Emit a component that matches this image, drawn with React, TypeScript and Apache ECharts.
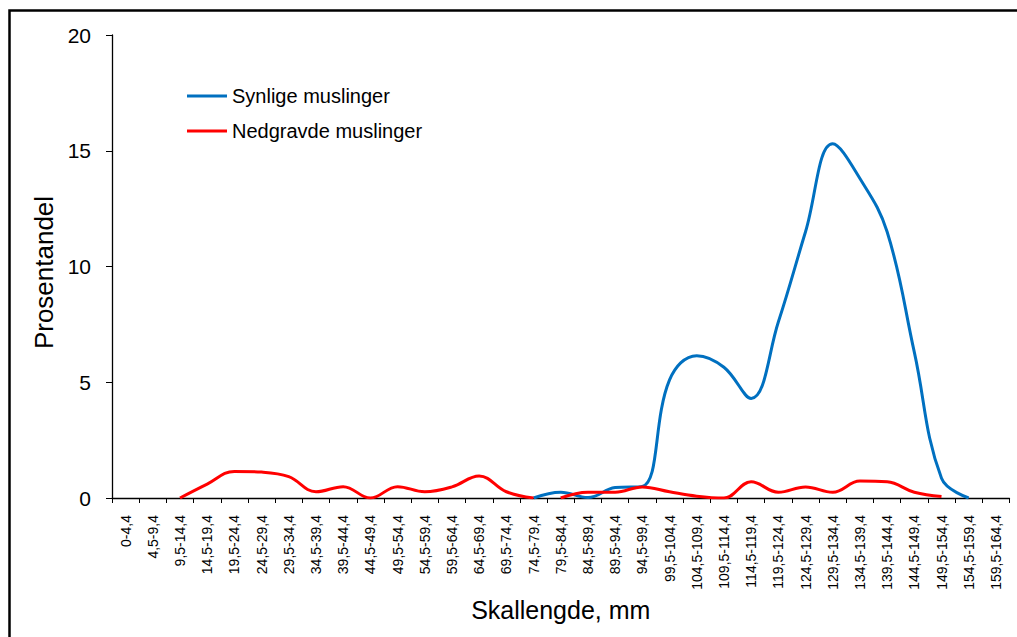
import React, { useEffect, useRef } from "react";
import * as echarts from "echarts";

const categories = [
  "0-4,4", "4,5-9,4", "9,5-14,4", "14,5-19,4", "19,5-24,4", "24,5-29,4", "29,5-34,4",
  "34,5-39,4", "39,5-44,4", "44,5-49,4", "49,5-54,4", "54,5-59,4", "59,5-64,4", "64,5-69,4",
  "69,5-74,4", "74,5-79,4", "79,5-84,4", "84,5-89,4", "89,5-94,4", "94,5-99,4", "99,5-104,4",
  "104,5-109,4", "109,5-114,4", "114,5-119,4", "119,5-124,4", "124,5-129,4", "129,5-134,4",
  "134,5-139,4", "139,5-144,4", "144,5-149,4", "149,5-154,4", "154,5-159,4", "159,5-164,4",
];

const synlige: (number | null)[] = [
  null, null, null, null, null, null, null, null, null, null, null, null, null, null, null,
  0, 0.25, 0.02, 0.45, 0.5, 5.1, 6.15, 5.65, 4.3, 7.6, 11.5, 15.3, 13.8, 11.5, 6.3, 0.85, 0, null,
];

const nedgravdeA: (number | null)[] = [
  null, null, 0, 0.6, 1.15, 1.12, 0.92, 0.27, 0.49, 0, 0.49, 0.27, 0.48, 0.95, 0.27, 0,
  null, null, null, null, null, null, null, null, null, null, null, null, null, null, null, null, null,
];

const nedgravdeB: (number | null)[] = [
  null, null, null, null, null, null, null, null, null, null, null, null, null, null, null, null,
  0, 0.25, 0.25, 0.48, 0.27, 0.08, 0, 0.7, 0.25, 0.48, 0.25, 0.73, 0.7, 0.25, 0.06, null, null,
];

const yTicks = [0, 5, 10, 15, 20];

const FONT = "Liberation Sans, Arial, sans-serif";

export default function App() {
  const ref = useRef<HTMLDivElement>(null);
  useEffect(() => {
    document.body.style.margin = "0";
    const chart = echarts.init(ref.current!, null, { renderer: "svg" });
    const smooth = 0.4;
    chart.setOption({
      animation: false,
      backgroundColor: "#ffffff",
      textStyle: { fontFamily: FONT },
      graphic: [
        {
          type: "rect",
          shape: { x: 9.5, y: 10.5, width: 1100, height: 700 },
          style: { fill: "none", stroke: "#000", lineWidth: 2.5 },
          silent: true,
        },
      ],
      legend: {
        orient: "vertical",
        left: 187,
        top: 86,
        padding: 0,
        itemWidth: 40,
        itemHeight: 3,
        itemGap: 15,
        icon: "rect",
        data: ["Synlige muslinger", "Nedgravde muslinger"],
        textStyle: { fontFamily: FONT, fontSize: 20, color: "#000" },
      },
      grid: { left: 112, top: 35, right: 7.5, bottom: 139, containLabel: false },
      xAxis: {
        type: "category",
        data: categories,
        boundaryGap: true,
        name: "Skallengde, mm",
        nameLocation: "middle",
        nameGap: 93,
        nameTextStyle: { fontFamily: FONT, fontSize: 25, color: "#000" },
        axisLine: { lineStyle: { color: "#000", width: 1.3 } },
        axisTick: { show: true, interval: 0, length: 5, lineStyle: { color: "#000" } },
        axisLabel: {
          interval: 0,
          rotate: 90,
          fontSize: 14,
          fontFamily: FONT,
          color: "#000",
          margin: 17,
        },
        splitLine: { show: false },
      },
      yAxis: {
        type: "value",
        min: 0,
        max: 20,
        interval: 5,
        name: "Prosentandel",
        nameLocation: "middle",
        nameGap: 50,
        nameTextStyle: { fontFamily: FONT, fontSize: 26, color: "#000", padding: [0, 12, 0, 0] },
        axisLine: { show: true, lineStyle: { color: "#000", width: 1.3 } },
        axisTick: { show: true, length: 6, lineStyle: { color: "#000" } },
        axisLabel: {
          fontSize: 21,
          fontFamily: FONT,
          color: "#000",
          margin: 21,
          formatter: (v: number) => (yTicks.includes(v) ? String(v) : ""),
        },
        splitLine: { show: false },
      },
      series: [
        {
          name: "Synlige muslinger",
          type: "line",
          data: synlige,
          smooth,
          showSymbol: false,
          connectNulls: false,
          lineStyle: { color: "#0070C0", width: 3 },
          itemStyle: { color: "#0070C0" },
          z: 2,
        },
        {
          name: "Nedgravde muslinger",
          type: "line",
          data: nedgravdeA,
          smooth,
          showSymbol: false,
          lineStyle: { color: "#FF0000", width: 3 },
          itemStyle: { color: "#FF0000" },
          z: 3,
        },
        {
          name: "Nedgravde muslinger",
          type: "line",
          data: nedgravdeB,
          smooth,
          showSymbol: false,
          lineStyle: { color: "#FF0000", width: 3 },
          itemStyle: { color: "#FF0000" },
          z: 3,
        },
      ],
    });
    return () => chart.dispose();
  }, []);
  return <div ref={ref} style={{ width: 1017, height: 637 }} />;
}
